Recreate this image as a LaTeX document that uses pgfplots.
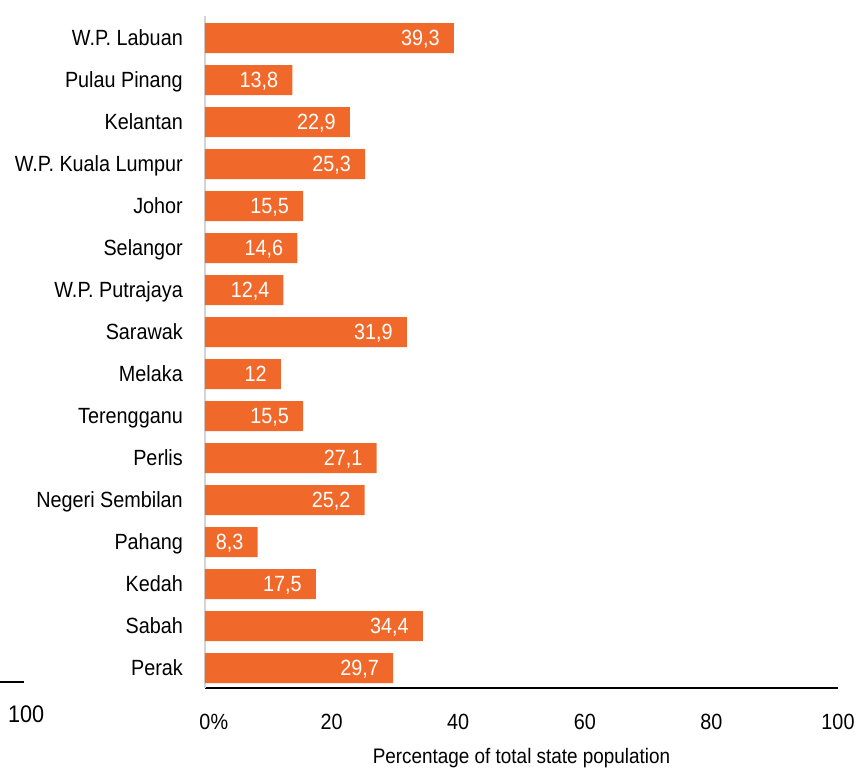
\documentclass[border=0pt]{standalone}
\usepackage{fontspec}
\setmainfont{Liberation Sans}[FakeStretch=0.9]
\usepackage{pgfplots}
\usepackage{pgfplotstable}
\pgfplotsset{compat=1.18}
\definecolor{barorange}{HTML}{F0692A}
\definecolor{axisgray}{HTML}{D4D4D4}
\pgfplotstableread{
idx val lab
0 39.3 39,3
1 13.8 13,8
2 22.9 22,9
3 25.3 25,3
4 15.5 15,5
5 14.6 14,6
6 12.4 12,4
7 31.9 31,9
8 12 12
9 15.5 15,5
10 27.1 27,1
11 25.2 25,2
12 8.3 8,3
13 17.5 17,5
14 34.4 34,4
15 29.7 29,7
}\statedata
\begin{document}
\begin{tikzpicture}[font=\fontsize{22}{26}\selectfont]
\begin{axis}[
  scale only axis,
  width=633pt, height=672pt,
  xbar, bar width=30pt,
  xmin=0, xmax=100,
  ymin=-0.524, ymax=15.476,
  y dir=reverse,
  enlargelimits=false,
  clip=false,
  axis x line*=bottom,
  axis y line*=left,
  x axis line style={black, line width=2pt},
  y axis line style={axisgray, line width=2pt},
  major tick length=0pt,
  tick style={draw=none},
  xtick={0,20,40,60,80,100},
  xticklabels={0\rlap{\%},20,40,60,80,100},
  xticklabel style={anchor=base, inner sep=0pt, yshift=-41pt},
  ytick={0,...,15},
  yticklabels={W.P. Labuan,Pulau Pinang,Kelantan,W.P. Kuala Lumpur,Johor,Selangor,W.P. Putrajaya,Sarawak,Melaka,Terengganu,Perlis,Negeri Sembilan,Pahang,Kedah,Sabah,Perak},
  yticklabel style={anchor=base east, inner sep=0pt, xshift=-22pt, yshift=-7.9pt},
  xlabel={Percentage of total state population},
  xlabel style={at={(axis description cs:0.5,0)}, anchor=base, inner sep=0pt, yshift=-75pt, font=\fontsize{21}{25}\selectfont},
  nodes near coords,
  point meta=explicit symbolic,
  nodes near coords style={anchor=base east, inner sep=0pt, xshift=-14pt, yshift=-7.9pt, text=white},
]
\addplot[fill=barorange, draw=none] table[x=val, y=idx, meta=lab] {\statedata};
\end{axis}
\draw[line width=2pt] ([xshift=-205pt,yshift=6pt]current axis.south west) -- ++(24pt,0);
\node[anchor=base west, inner sep=0pt, font=\fontsize{24}{28}\selectfont] at ([xshift=-197pt,yshift=-34pt]current axis.south west) {100};
\pgfresetboundingbox
\path ([xshift=-205pt,yshift=16pt]current axis.north west) rectangle ([xshift=23pt,yshift=-80pt]current axis.south east);
\end{tikzpicture}
\end{document}
